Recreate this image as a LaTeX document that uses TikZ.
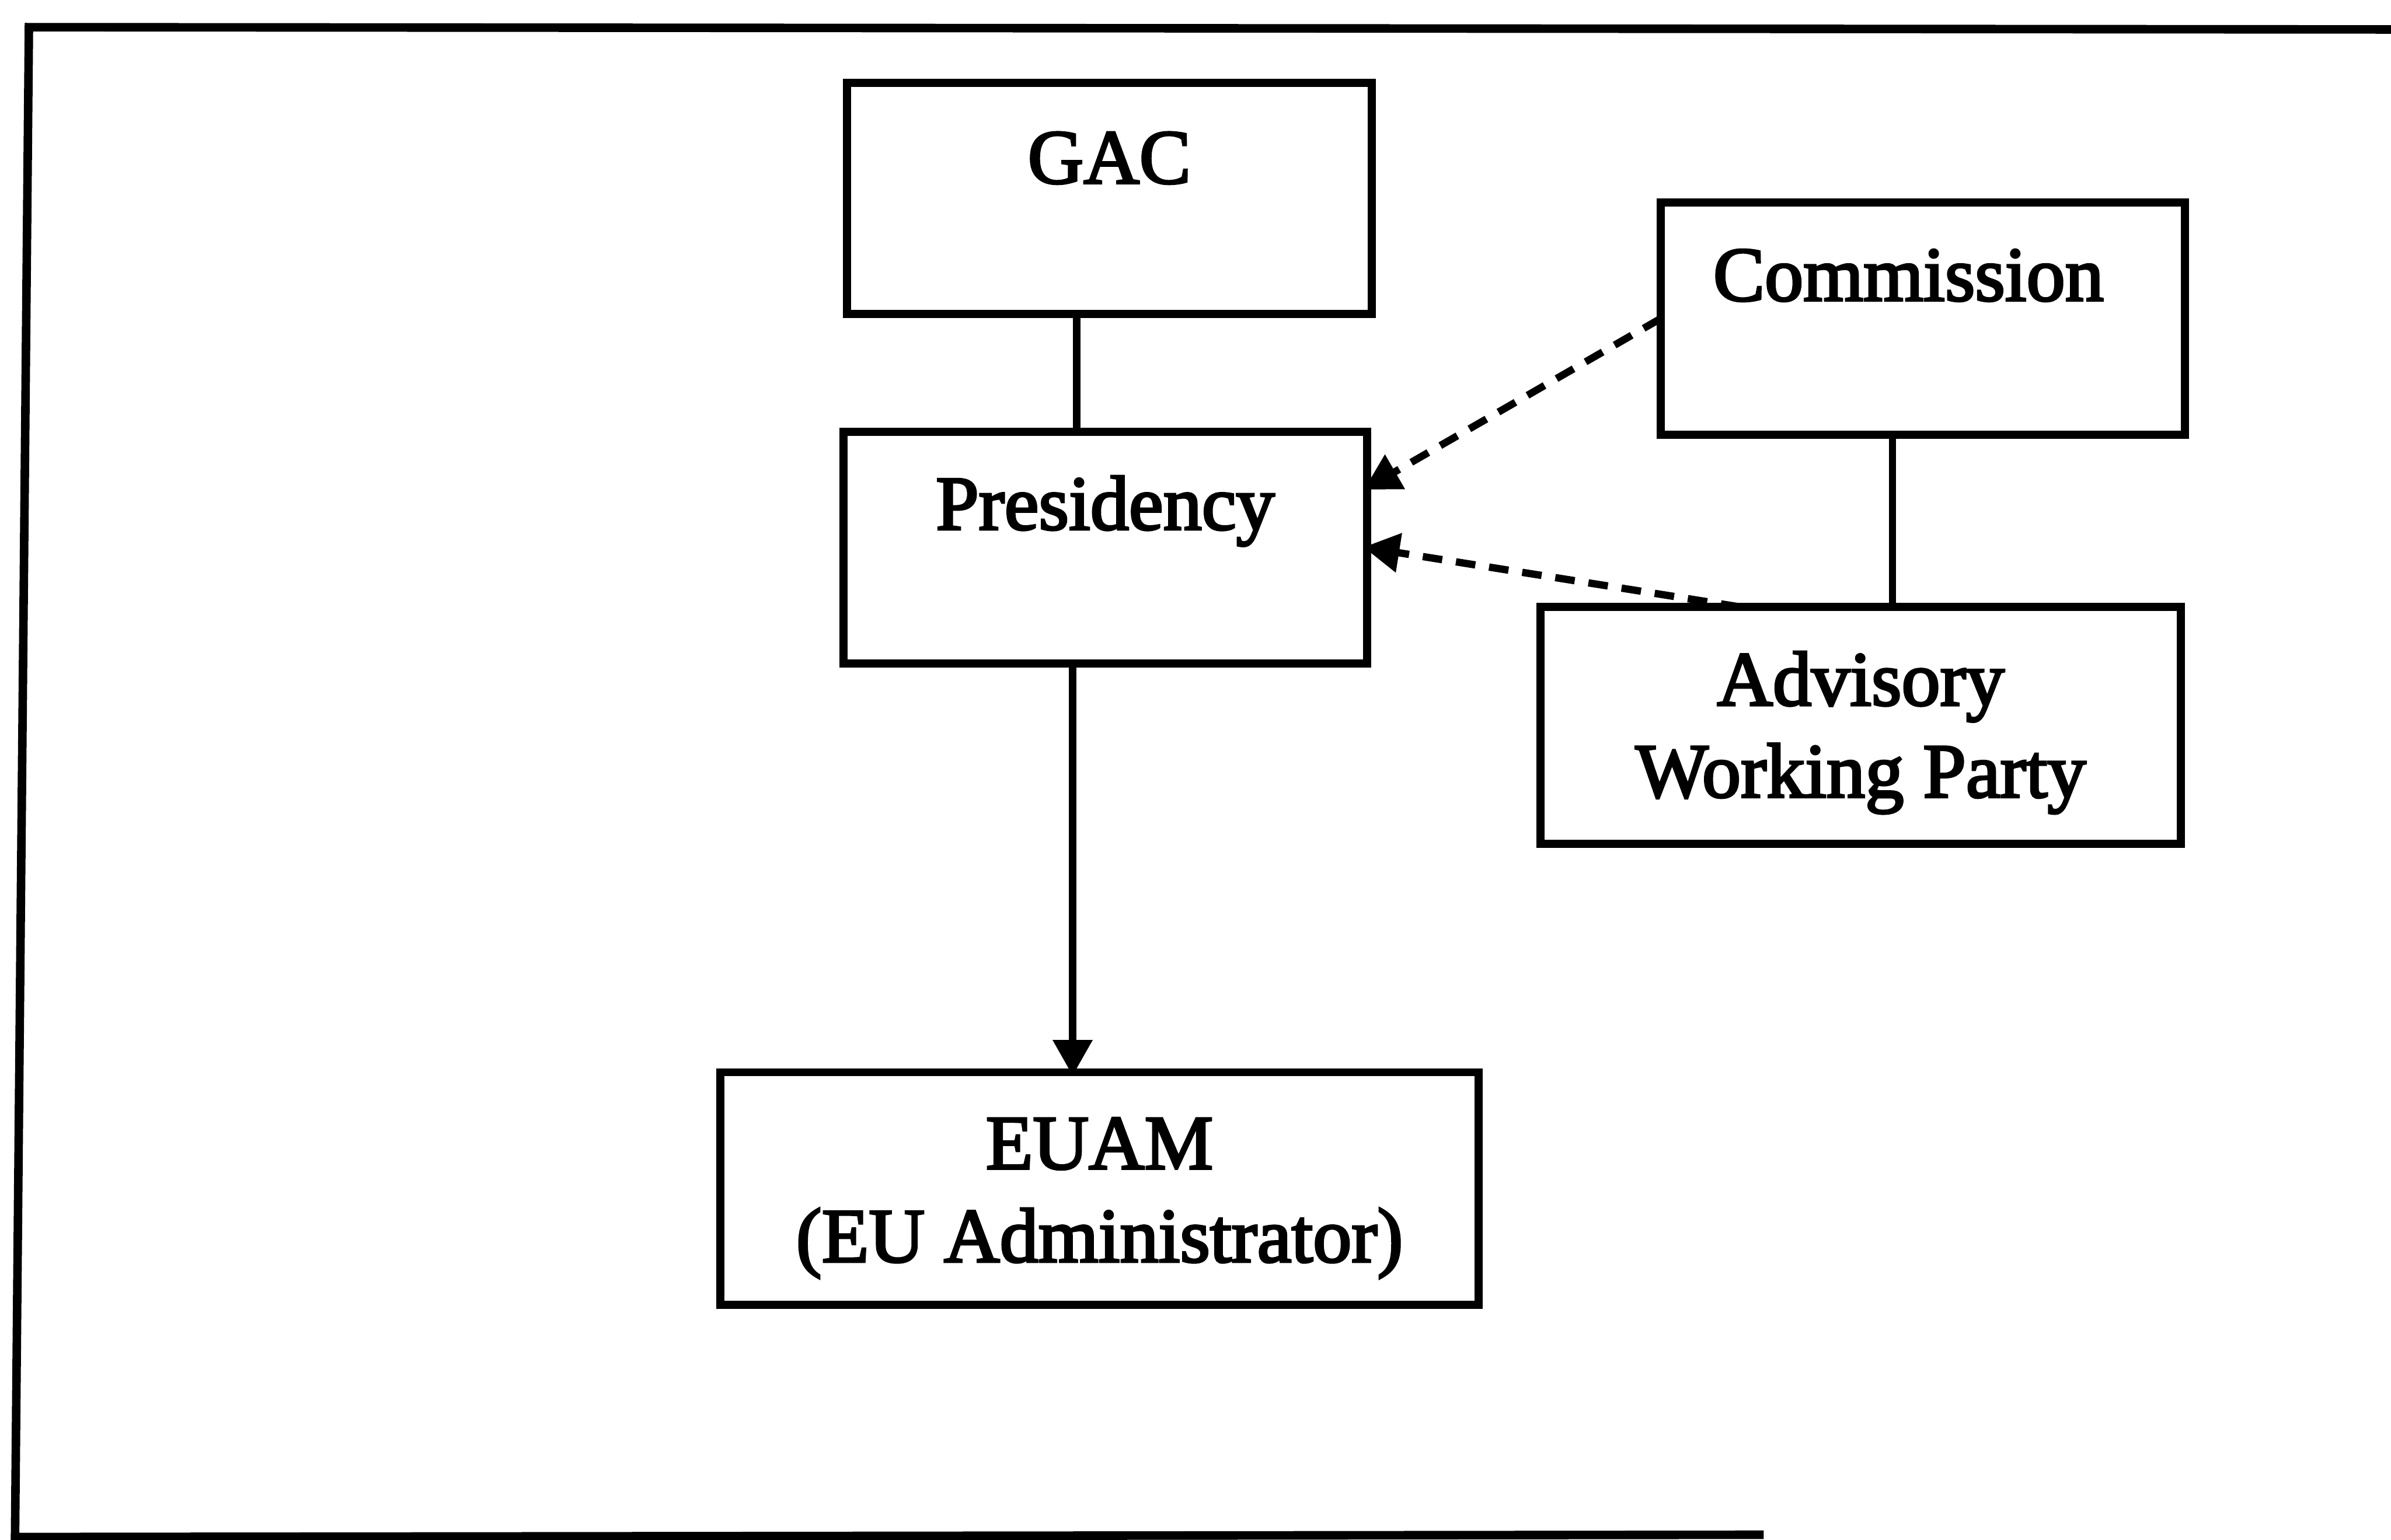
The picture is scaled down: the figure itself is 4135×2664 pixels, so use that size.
\documentclass[tikz,border=0pt]{standalone}
\usepackage{fontspec}
\setmainfont{Liberation Serif}
\newfontfamily\labelfont{Liberation Serif}[FakeBold=3]
\usetikzlibrary{arrows.meta,calc}
\begin{document}
\begin{tikzpicture}[x=0.1mm,y=-0.1mm,
  box/.style={draw, line width=4pt, rectangle, inner sep=0pt, outer sep=0pt},
  lbl/.style={inner sep=0pt, outer sep=0pt, anchor=base, font=\labelfont\fontsize{38}{45.5}\selectfont},
  link/.style={line width=3.6pt},
  tip/.style={-{Triangle[length=6.2mm,width=6.6mm]}, shorten >=-0.6mm},
  dashlink/.style={link, tip, dash pattern=on 3.4mm off 2.4mm},
  frame/.style={line width=4.2pt, line join=miter}]
\useasboundingbox (0,0) rectangle (4135,2664);

% outer frame, open on the right
\draw[frame] (4200,51) -- (50,47) -- (26,2659) -- (3050,2655);

% boxes
\node[box, minimum width=90.7mm,  minimum height=40.0mm] (gac)  at (1918.5,343)   {};
\node[box, minimum width=90.5mm,  minimum height=40.1mm] (pres) at (1911.5,947.5) {};
\node[box, minimum width=90.7mm,  minimum height=40.2mm] (comm) at (3325.5,551)   {};
\node[box, minimum width=110.8mm, minimum height=41.0mm] (awp)  at (3218,1255)    {};
\node[box, minimum width=131.1mm, minimum height=40.2mm] (euam) at (1901.5,2056)  {};

% labels
\node[lbl] (gac-t)   at ([yshift=-17.4mm]gac.north)  {GAC};
\node[lbl] (pres-t)  at ([yshift=-16.9mm]pres.north) {Presidency};
\node[lbl] (comm-t)  at ([xshift=-2.5mm,yshift=-17mm]comm.north) {Commission};
\node[lbl] (awp-t1)  at ([yshift=-17mm]awp.north)    {Advisory};
\node[lbl] (awp-t2)  at ([yshift=-32.9mm]awp.north)  {Working Party};
\node[lbl] (euam-t1) at ([yshift=-16.7mm]euam.north) {EUAM};
\node[lbl] (euam-t2) at ([yshift=-32.8mm]euam.north) {(EU Administrator)};

% connectors
\draw[link] ([xshift=-5.65mm]gac.south) -- ([xshift=-5.65mm]gac.south |- pres.north);
\draw[link, tip] ([xshift=-5.65mm]pres.south) -- ([xshift=-5.65mm]pres.south |- euam.north);
\draw[link] ([xshift=-5.25mm]comm.south) -- ([xshift=-5.25mm]comm.south |- awp.north);
\draw[dashlink] (comm.west) -- ($(pres.north east)!0.242!(pres.south east)$);
\draw[dashlink] ($(awp.north west)!0.312!(awp.north east)$) -- (pres.east);
\end{tikzpicture}
\end{document}
